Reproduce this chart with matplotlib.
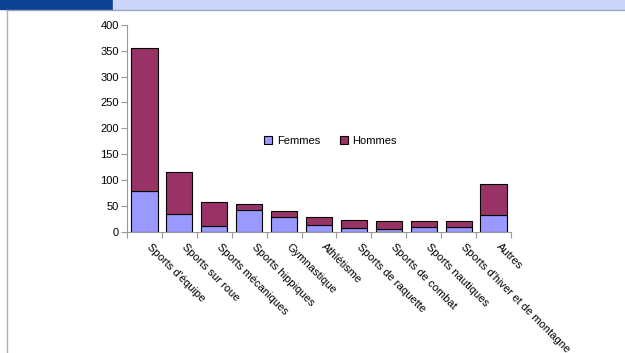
import matplotlib.pyplot as plt
import numpy as np
from matplotlib.patches import Rectangle
from matplotlib.lines import Line2D

categories = ["Sports d'équipe", "Sports sur roue", "Sports mécaniques", "Sports hippiques",
              "Gymnastique", "Athlétisme", "Sports de raquette", "Sports de combat",
              "Sports nautiques", "Sports d'hiver et de montagne", "Autres"]
femmes = [79, 34, 10, 41, 29, 12, 7, 4, 9, 9, 32]
hommes = [277, 81, 47, 12, 10, 17, 15, 16, 11, 11, 60]

plt.rcParams['font.family'] = ['Liberation Sans', 'DejaVu Sans']

fig = plt.figure(figsize=(6.25, 3.53), dpi=100)

# header band and frame
fig.patches.append(Rectangle((0, 1 - 9/353), 113/625, 9/353, transform=fig.transFigure,
                             color='#0b4093', zorder=0))
fig.patches.append(Rectangle((113/625, 1 - 9/353), 1, 9/353, transform=fig.transFigure,
                             color='#ccd6fb', zorder=0))
fig.lines.append(Line2D([6/625, 1], [1 - 9.5/353, 1 - 9.5/353], transform=fig.transFigure,
                        color='#9aa6bd', lw=1))
fig.lines.append(Line2D([6.5/625, 6.5/625], [0, 1 - 9.5/353], transform=fig.transFigure,
                        color='#b0b0b0', lw=1))

ax = fig.add_axes([127/625, 1 - 231.5/353, 384/625, 206.5/353])
x = np.arange(len(categories))
ax.bar(x, femmes, width=0.75, color='#9999ff', edgecolor='black', linewidth=0.8, label='Femmes')
ax.bar(x, hommes, width=0.75, bottom=femmes, color='#993366', edgecolor='black', linewidth=0.8,
       label='Hommes')

ax.set_xlim(-0.5, len(categories) - 0.5)
ax.set_ylim(0, 400)
ax.set_yticks(range(0, 401, 50))
ax.tick_params(axis='y', labelsize=8, length=4, color='#999999', pad=2)
ax.set_xticks(np.arange(-0.5, len(categories), 1))
ax.set_xticklabels([])
ax.tick_params(axis='x', length=4, color='#999999')
for i, c in enumerate(categories):
    ax.text(i + 0.22, -20, c, rotation=-45, rotation_mode='anchor', ha='left', va='top',
            fontsize=8, transform=ax.transData, clip_on=False)

for s in ['top', 'right']:
    ax.spines[s].set_visible(False)
for s in ['left', 'bottom']:
    ax.spines[s].set_color('#999999')

ax.legend(loc='center', bbox_to_anchor=(0.53, 0.44), ncol=2, frameon=False, fontsize=8,
          handlelength=0.7, handleheight=0.7, handletextpad=0.4, columnspacing=1.8)

fig.savefig('out.png', dpi=100)
